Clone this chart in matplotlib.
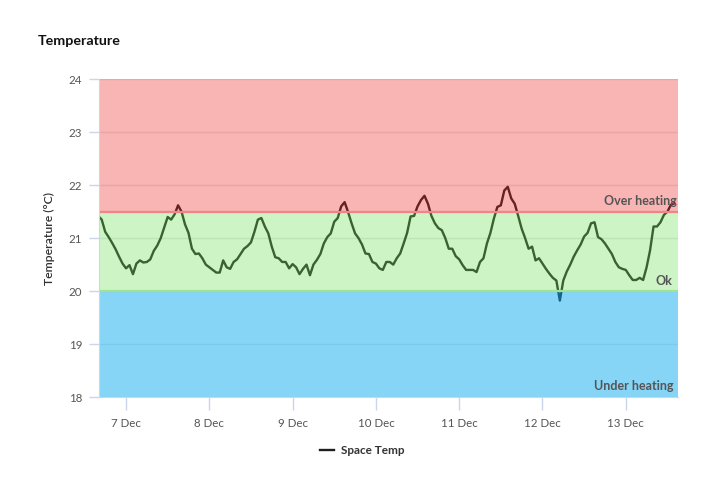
import matplotlib
matplotlib.use("Agg")
import matplotlib.pyplot as plt
import matplotlib.dates as mdates
from matplotlib.transforms import blended_transform_factory
import numpy as np
import pandas as pd

plt.rcParams['font.family'] = ['Lato', 'DejaVu Sans']

# ---- data (hourly readings, starting 6 Dec 16:00) ----
start_time = "2023-12-06 16:00"
space_temp = [
    21.42, 21.35, 21.12, 21.02, 20.91, 20.79, 20.65, 20.52,               # 6 Dec 16h-23h
    20.43, 20.49, 20.32, 20.52, 20.58, 20.54, 20.55, 20.60, 20.76, 20.86, 21.00, 21.20,
    21.40, 21.35, 21.45, 21.62, 21.50, 21.26, 21.10, 20.80, 20.70, 20.71, 20.62, 20.50,  # 7 Dec
    20.45, 20.40, 20.35, 20.35, 20.58, 20.45, 20.42, 20.55, 20.60, 20.70, 20.80, 20.85,
    20.92, 21.12, 21.35, 21.38, 21.22, 21.09, 20.84, 20.64, 20.62, 20.55, 20.55, 20.43,  # 8 Dec
    20.51, 20.45, 20.32, 20.42, 20.50, 20.30, 20.50, 20.59, 20.70, 20.90, 21.02, 21.09,
    21.31, 21.38, 21.60, 21.68, 21.49, 21.28, 21.09, 21.00, 20.88, 20.71, 20.70, 20.55,  # 9 Dec
    20.52, 20.43, 20.40, 20.55, 20.55, 20.50, 20.62, 20.71, 20.90, 21.10, 21.41, 21.42,
    21.60, 21.72, 21.80, 21.65, 21.42, 21.28, 21.19, 21.15, 21.00, 20.80, 20.80, 20.66,  # 10 Dec
    20.60, 20.49, 20.40, 20.40, 20.40, 20.36, 20.55, 20.62, 20.90, 21.10, 21.37, 21.59,
    21.62, 21.90, 21.97, 21.75, 21.65, 21.42, 21.18, 21.00, 20.80, 20.84, 20.58, 20.62,  # 11 Dec
    20.52, 20.42, 20.33, 20.25, 20.20, 19.82, 20.20, 20.37, 20.50, 20.65, 20.77, 20.88,
    21.03, 21.10, 21.28, 21.30, 21.02, 20.98, 20.90, 20.80, 20.70, 20.55, 20.45, 20.42,  # 12 Dec
    20.40, 20.30, 20.21, 20.21, 20.25, 20.21, 20.45, 20.77, 21.22, 21.22, 21.30, 21.44,
    21.50, 21.63, 21.66,                                                          # 13 Dec
]
times = pd.date_range(start_time, periods=len(space_temp), freq="h")

bands = [  # (low, high, label)
    (21.5, 24, "Over heating"),
    (20, 21.5, "Ok"),
    (18, 20, "Under heating"),
]
y_ticks = [18, 19, 20, 21, 22, 23, 24]
x_tick_days = pd.date_range("2023-12-07", "2023-12-13", freq="D")

# ---- figure ----
fig = plt.figure(figsize=(7.24, 5.0), dpi=100)
ax = fig.add_axes([99 / 724, 103 / 500, 579 / 724, 317.7 / 500])

ax.plot(times, space_temp, color="#1e1e1e", lw=1.7, zorder=2, label="Space Temp",
        solid_joinstyle="round")

# translucent bands drawn over the line
ax.axhspan(21.5, 24, color=(238 / 255, 40 / 255, 42 / 255), alpha=0.35, lw=0, zorder=3)
ax.axhspan(20, 21.5, color=(109 / 255, 226 / 255, 86 / 255), alpha=0.35, lw=0, zorder=3)
ax.axhspan(18, 20, color=(15 / 255, 173 / 255, 239 / 255), alpha=0.5, lw=0, zorder=3)
ax.axhline(21.5, color="#f08585", lw=1.6, zorder=4)
ax.axhline(20, color="#9ee492", lw=1.6, zorder=4)

ax.set_ylim(18, 24)
ax.set_xlim(pd.Timestamp("2023-12-06 16:13"), pd.Timestamp("2023-12-13 15:03"))
ax.set_yticks(y_ticks)
ax.set_xticks(x_tick_days)
ax.xaxis.set_major_formatter(mdates.DateFormatter("%-d Dec"))
ax.grid(axis="y", color="#e8e8e8", lw=1, zorder=1)
ax.set_axisbelow(True)

for s in ["top", "right"]:
    ax.spines[s].set_visible(False)
ax.spines["left"].set_color("#ccd6eb")
ax.spines["bottom"].set_color("#ccd6eb")
ax.spines["left"].set_zorder(5)
ax.spines["bottom"].set_zorder(5)

ax.tick_params(axis="y", length=7, width=1, color="#ccd6eb", pad=5,
               labelsize=8.3, labelcolor="#555555")
ax.tick_params(axis="x", length=9, width=1, color="#ccd6eb", pad=6,
               labelsize=8.3, labelcolor="#555555")

ax.set_ylabel("Temperature (°C)", fontsize=8.8, color="#333333", labelpad=10,
              fontweight="semibold")

tr = blended_transform_factory(ax.transAxes, ax.transData)
ax.text(0.997, 21.70, "Over heating", transform=tr, ha="right", va="center",
        fontsize=9, fontweight="bold", color="#555555", zorder=1.5)
ax.text(0.99, 20.19, "Ok", transform=tr, ha="right", va="center",
        fontsize=9, fontweight="bold", color="#555555", zorder=6)
ax.text(0.993, 18.2, "Under heating", transform=tr, ha="right", va="center",
        fontsize=9, fontweight="bold", color="#555555", zorder=6)
for t in ax.texts:
    t.set_zorder(6)

fig.text(38 / 724, 1 - 41 / 500, "Temperature", fontsize=10.3, fontweight="bold",
         color="#111111", va="center", ha="left")

leg = fig.legend(loc="center", bbox_to_anchor=(0.5, 1 - 451 / 500), frameon=False,
                 handlelength=1.2, handletextpad=0.6,
                 prop={"size": 8.5, "weight": "bold"})
for t in leg.get_texts():
    t.set_color("#333333")

fig.savefig("out.png", dpi=100)
